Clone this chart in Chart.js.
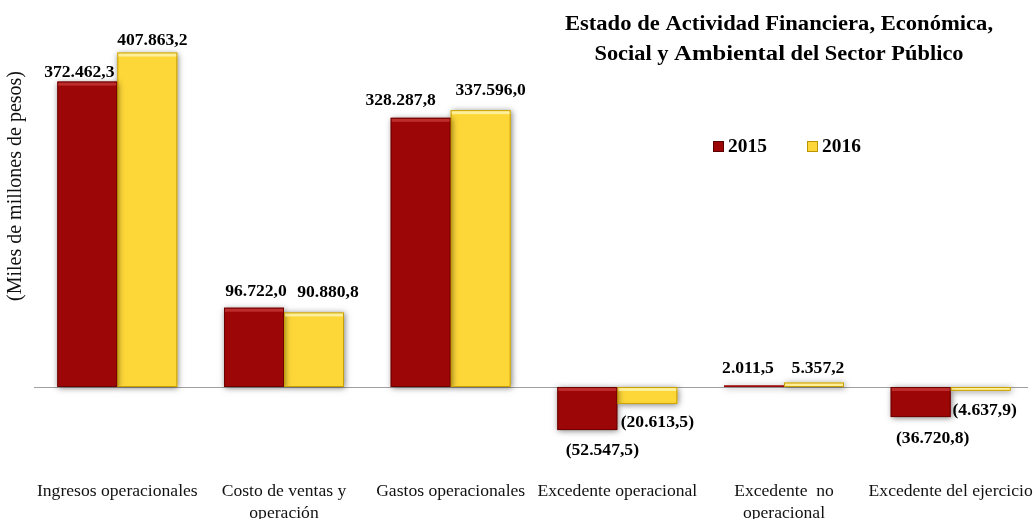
<!DOCTYPE html>
<html><head><meta charset="utf-8">
<script src="https://cdn.jsdelivr.net/npm/chart.js@4.4.0/dist/chart.umd.min.js"></script>
<style>html,body{margin:0;padding:0;background:#fff}#wrap{width:1034px;height:519px}</style>
</head><body><div id="wrap"><canvas id="c"></canvas></div>
<script>
const categories = [['Ingresos operacionales'], ['Costo de ventas y','operación'], ['Gastos operacionales'], ['Excedente operacional'], ['Excedente  no','operacional'], ['Excedente del ejercicio']];
const seriesNames = ['2015', '2016'];
const values2015 = [372462.3, 96722.0, 328287.8, -52547.5, 2011.5, -36720.8];
const values2016 = [407863.2, 90880.8, 337596.0, -20613.5, 5357.2, -4637.9];
const titleLine1 = 'Estado de Actividad Financiera, Económica,';
const titleLine2 = ['Social y ', 'Ambiental', ' del Sector Público'];
const yTitle = '(Miles de millones de pesos)';

// label placement (layout only)
const labelOffsetX = [[-8, 2, -20, 15, -6, 12], [5, 14, 10, 10, 4, 4]];
const labelOffsetY = [[-5, -12, -13, 25, -12, 26], [-8, -15, -15, 23, -10, 24]];

function fmt(v){
  const neg = v < 0; const a = Math.abs(v);
  let [i, d] = a.toFixed(1).split('.');
  i = i.replace(/\B(?=(\d{3})+(?!\d))/g, '.');
  const s = i + ',' + d;
  return neg ? '(' + s + ')' : s;
}
const SERIF = '"Liberation Serif", "Times New Roman", serif';
const RED = '#9c0606', YEL = '#fdd638';
const STRETCH = 1.1;

function stretchedText(ctx, text, x, y, sx){
  ctx.save(); ctx.translate(x, y); ctx.scale(sx, 1); ctx.fillText(text, 0, 0); ctx.restore();
}

const decor = {
  id: 'decor',
  beforeDatasetsDraw(chart){
    const {ctx, chartArea, scales} = chart;
    const y0 = Math.round(scales.y.getPixelForValue(0)) + 0.5;
    ctx.save();
    ctx.strokeStyle = '#a0a0a0'; ctx.lineWidth = 1;
    ctx.beginPath(); ctx.moveTo(chartArea.left, y0); ctx.lineTo(chartArea.right - 6, y0); ctx.stroke();
    ctx.restore();
  },
  beforeDatasetDraw(chart){
    const ctx = chart.ctx; ctx.save();
    ctx.shadowColor = 'rgba(0,0,0,0.5)'; ctx.shadowBlur = 6; ctx.shadowOffsetX = 1; ctx.shadowOffsetY = 1;
  },
  afterDatasetDraw(chart){ chart.ctx.restore(); },
  afterDatasetsDraw(chart){
    const ctx = chart.ctx;
    const {scales} = chart;
    ctx.save();
    // bevel outlines
    const edge = [['#6a0000', 'rgba(255,120,120,0.35)'], ['#c8a000', 'rgba(255,255,220,0.6)']];
    chart.data.datasets.forEach((ds, di) => {
      chart.getDatasetMeta(di).data.forEach((el) => {
        const left = el.x - el.width / 2, right = el.x + el.width / 2;
        const top = Math.min(el.y, el.base), bot = Math.max(el.y, el.base);
        if (bot - top < 2) return;
        ctx.strokeStyle = edge[di][0]; ctx.lineWidth = 1;
        ctx.strokeRect(left + 0.5, top + 0.5, right - left - 1, bot - top - 1);
        ctx.fillStyle = edge[di][1];
        ctx.fillRect(left + 1, top + 1, right - left - 2, Math.min(3, bot - top - 2));
      });
    });
    // value labels
    ctx.fillStyle = '#000'; ctx.font = 'bold 16px ' + SERIF; ctx.textAlign = 'center'; ctx.textBaseline = 'alphabetic';
    chart.data.datasets.forEach((ds, di) => {
      chart.getDatasetMeta(di).data.forEach((el, i) => {
        stretchedText(ctx, fmt(ds.data[i]), el.x + labelOffsetX[di][i], el.y + labelOffsetY[di][i], STRETCH);
      });
    });
    // category labels
    ctx.font = '16px ' + SERIF; ctx.fillStyle = '#111';
    categories.forEach((lines, i) => {
      const x = scales.x.getPixelForValue(i);
      lines.forEach((t, k) => stretchedText(ctx, t, x, 496 + k * 22, STRETCH));
    });
    // title
    ctx.fillStyle = '#000';
    ctx.font = 'bold 20px ' + SERIF;
    stretchedText(ctx, titleLine1, 779, 30, 1.13);
    const f1 = 'bold 20px ' + SERIF, f2 = 'bold 22px ' + SERIF;
    ctx.font = f1; const w1 = ctx.measureText(titleLine2[0]).width, w3 = ctx.measureText(titleLine2[2]).width;
    ctx.font = f2; const w2 = ctx.measureText(titleLine2[1]).width;
    const S = 1.12;
    let sx = 779 - S * (w1 + w2 + w3) / 2;
    ctx.textAlign = 'left';
    ctx.font = f1; stretchedText(ctx, titleLine2[0], sx, 60, S); sx += w1 * S;
    ctx.font = f2; stretchedText(ctx, titleLine2[1], sx, 60, S); sx += w2 * S;
    ctx.font = f1; stretchedText(ctx, titleLine2[2], sx, 60, S);
    // legend
    const legend = [[713, RED, '#5a0000'], [807, YEL, '#b89400']];
    ctx.font = 'bold 18px ' + SERIF; ctx.textBaseline = 'alphabetic';
    legend.forEach(([lx, c, b], k) => {
      ctx.fillStyle = c; ctx.fillRect(lx, 141, 11, 11);
      ctx.strokeStyle = b; ctx.lineWidth = 1; ctx.strokeRect(lx + 0.5, 141.5, 10, 10);
      ctx.fillStyle = '#000'; stretchedText(ctx, seriesNames[k], lx + 15, 152, 1.08);
    });
    // y title
    ctx.translate(21, 186); ctx.rotate(-Math.PI / 2);
    ctx.font = '20px ' + SERIF; ctx.textAlign = 'center'; ctx.fillStyle = '#111';
    ctx.fillText(yTitle, 0, 0);
    ctx.restore();
  }
};

new Chart(document.getElementById('c'), {
  type: 'bar',
  data: {
    labels: categories,
    datasets: [
      {label: seriesNames[0], data: values2015, backgroundColor: RED, borderWidth: 0},
      {label: seriesNames[1], data: values2016, backgroundColor: YEL, borderWidth: 0}
    ]
  },
  options: {
    responsive: true, maintainAspectRatio: false, animation: false,
    layout: {padding: {left: 34, right: 0, top: 10, bottom: 49}},
    datasets: {bar: {barPercentage: 1, categoryPercentage: 0.72}},
    plugins: {legend: {display: false}, tooltip: {enabled: false}},
    scales: {
      x: {display: false},
      y: {display: false, min: -101220, max: 459750}
    }
  },
  plugins: [decor]
});
</script></body></html>
